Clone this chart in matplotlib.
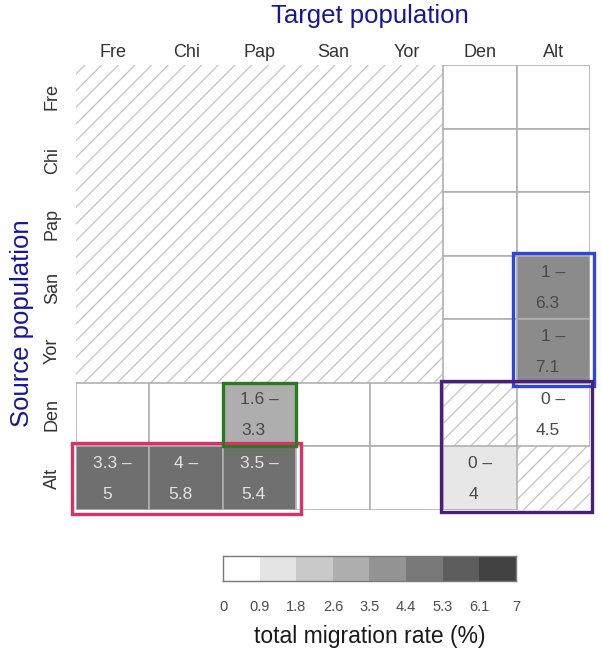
import numpy as np
import matplotlib
matplotlib.use("Agg")
import matplotlib.pyplot as plt
from matplotlib.colors import LinearSegmentedColormap, Normalize
from matplotlib.patches import Rectangle

plt.rcParams['font.family'] = ['Liberation Sans', 'DejaVu Sans']
plt.rcParams['hatch.color'] = '#c4c4c4'
plt.rcParams['hatch.linewidth'] = 0.9

pops = ['Fre', 'Chi', 'Pap', 'San', 'Yor', 'Den', 'Alt']
n_modern = 5  # first five are modern populations (no migration estimated among them)

# estimated migration cells (source -> target)
est_src = ['San', 'Yor', 'Den', 'Den', 'Alt', 'Alt', 'Alt', 'Alt']
est_tgt = ['Alt', 'Alt', 'Pap', 'Alt', 'Fre', 'Chi', 'Pap', 'Den']
est_rate = [3.75, 3.8, 2.65, 0.0, 4.7, 4.7, 4.65, 0.8]
ci_low = ['1', '1', '1.6', '0', '3.3', '4', '3.5', '0']
ci_high = ['6.3', '7.1', '3.3', '4.5', '5', '5.8', '5.4', '4']

# legend bins
bin_edges = np.linspace(0, 7, 9)
bin_labels = ['0', '0.9', '1.8', '2.6', '3.5', '4.4', '5.3', '6.1', '7']

# highlight boxes: (rows, cols, colour, pad)
boxes = [
    (['San', 'Yor'], ['Alt'], '#2f46dc', 0.05),
    (['Den', 'Alt'], ['Den', 'Alt'], '#4b1f78', 0.03),
    (['Alt'], ['Fre', 'Chi', 'Pap'], '#dc2f6c', 0.06),
    (['Den'], ['Pap'], '#2b7a22', 0.0),
]

cmap = LinearSegmentedColormap.from_list('mig', ['#ffffff', '#282828'])
norm = Normalize(0, 7)

# build matrix: NaN = not estimated (hatched), 0 = white
n = len(pops)
rate = np.zeros((n, n))
for i in range(n):
    for j in range(n):
        if (i < n_modern and j < n_modern) or i == j:
            rate[i, j] = np.nan
for s, t, v in zip(est_src, est_tgt, est_rate):
    rate[pops.index(s), pops.index(t)] = v

W, H = 602, 655
fig = plt.figure(figsize=(W / 100, H / 100), dpi=100)
ax = fig.add_axes([76 / W, 1 - 510 / H, 514 / W, 445 / H])
ax.set_xlim(0, n)
ax.set_ylim(n, 0)

# hatched cells first
for i in range(n):
    for j in range(n):
        if np.isnan(rate[i, j]):
            ax.add_patch(Rectangle((j, i), 1, 1, facecolor='white', hatch='//', linewidth=0))

for i in range(n):
    for j in range(n):
        if not np.isnan(rate[i, j]):
            ax.add_patch(Rectangle((j, i), 1, 1, facecolor=cmap(norm(rate[i, j])),
                                   edgecolor='#b0b0b0', linewidth=1.2, zorder=2))

# cell labels
for s, t, v, lo, hi in zip(est_src, est_tgt, est_rate, ci_low, ci_high):
    i, j = pops.index(s), pops.index(t)
    col = '#e2e2e2' if v > 4.4 else '#4a4a4a'
    ax.annotate(lo + ' \u2013', (j + 0.5, i + 0.5), xytext=(0, 15), textcoords='offset pixels',
                ha='center', va='center', fontsize=12.5, color=col, zorder=4)
    ax.annotate(hi, (j + 0.5, i + 0.5), xytext=(-6, -16), textcoords='offset pixels',
                ha='center', va='center', fontsize=12.5, color=col, zorder=4)

# highlight boxes
for rows, cols, c, pad in boxes:
    r0 = pops.index(rows[0])
    r1 = pops.index(rows[-1]) + 1
    c0 = pops.index(cols[0])
    c1 = pops.index(cols[-1]) + 1
    ax.add_patch(Rectangle((c0 - pad, r0 - pad), c1 - c0 + 2 * pad, r1 - r0 + 2 * pad,
                           fill=False, edgecolor=c, linewidth=2.4, zorder=5, clip_on=False))

ax.set_xticks(np.arange(n) + 0.5)
ax.set_xticklabels(pops)
ax.set_yticks(np.arange(n) + 0.5)
ax.set_yticklabels(pops, rotation=90, va='center')
ax.xaxis.tick_top()
ax.tick_params(axis='x', length=0, pad=3, labelsize=13, labelcolor='#333333')
ax.tick_params(axis='y', length=0, pad=11, labelsize=13, labelcolor='#333333')
for sp in ax.spines.values():
    sp.set_visible(False)

fig.text(370 / W, 1 - 16 / H, 'Target population', ha='center', va='center',
         fontsize=18.5, color='#16169c')
fig.text(22 / W, 1 - 323 / H, 'Source population', ha='center', va='center',
         rotation=90, fontsize=18.5, color='#16169c')

# legend
lax = fig.add_axes([223 / W, 1 - 581 / H, 293 / W, 25 / H])
lax.imshow(bin_edges[:-1][None, :], cmap=cmap, norm=norm, aspect='auto',
           extent=(bin_edges[0], bin_edges[-1], 0, 1))
lax.set_xlim(bin_edges[0], bin_edges[-1])
lax.set_yticks([])
lax.set_xticks(bin_edges)
lax.set_xticklabels(bin_labels)
lax.tick_params(axis='x', length=0, pad=14, labelsize=10.5, labelcolor='#4d4d4d')
for sp in lax.spines.values():
    sp.set_color('#7a7a7a')
    sp.set_linewidth(1.0)

fig.text(370 / W, 1 - 637 / H, 'total migration rate (%)', ha='center', va='center',
         fontsize=16.5, color='#1a1a1a')

fig.savefig('out.png', dpi=100)
